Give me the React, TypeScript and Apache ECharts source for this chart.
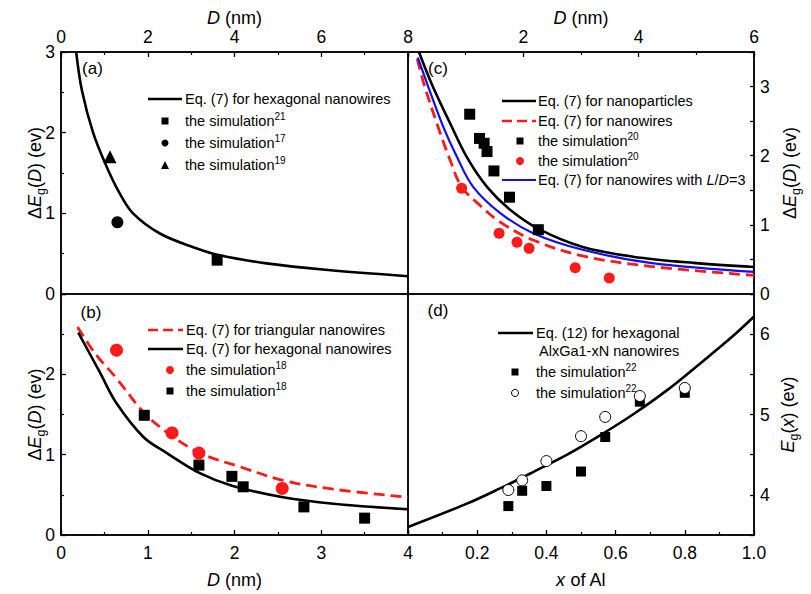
import React, { useEffect, useRef } from "react";
import * as echarts from "echarts";

const FONT = '"Liberation Sans", Arial, Helvetica, sans-serif';

// ---------- panel (a): hexagonal nanowires ----------
const aEqD = [0.35, 0.48, 0.74, 1.05, 1.35, 1.66, 2.28, 3.05, 3.66, 4.74, 6.1, 8.0];
const aEqE = [3.0, 2.53, 2.0, 1.58, 1.25, 1.0, 0.75, 0.58, 0.48, 0.38, 0.3, 0.22];
const aSim21 = [[3.6, 0.42]];
const aSim17 = [[1.3, 0.89]];
const aSim19 = [[1.13, 1.7]];

// ---------- panel (b): triangular vs hexagonal ----------
const bTriD = [0.19, 0.4, 0.64, 0.95, 1.22, 1.6, 2.06, 2.56, 3.14, 4.0];
const bTriE = [2.59, 2.25, 1.95, 1.53, 1.28, 1.02, 0.85, 0.68, 0.57, 0.47];
const bHexD = [0.2, 0.45, 0.64, 0.95, 1.22, 1.6, 1.98, 2.56, 3.14, 4.0];
const bHexE = [2.52, 2.02, 1.64, 1.22, 1.02, 0.77, 0.61, 0.47, 0.39, 0.32];
const bSimRedD = [0.64, 1.28, 1.59, 2.55];
const bSimRedE = [2.3, 1.27, 1.02, 0.58];
const bSimBlkD = [0.96, 1.59, 1.97, 2.1, 2.8, 3.5];
const bSimBlkE = [1.49, 0.87, 0.73, 0.6, 0.35, 0.21];

// ---------- panel (c): nanoparticles / nanowires ----------
const cNpD = [0.19, 0.43, 0.73, 1.02, 1.37, 1.77, 2.29, 3.03, 3.9, 4.95, 6.0];
const cNpE = [3.5, 3.0, 2.47, 1.98, 1.55, 1.22, 0.93, 0.68, 0.54, 0.45, 0.39];
const cNwD = [0.16, 0.29, 0.52, 0.72, 0.93, 1.25, 1.6, 2.17, 3.03, 4.2, 6.0];
const cNwE = [3.4, 3.0, 2.42, 1.96, 1.55, 1.28, 1.04, 0.78, 0.55, 0.4, 0.27];
const cLdD = [0.17, 0.35, 0.61, 0.85, 1.13, 1.6, 2.17, 3.03, 4.2, 6.0];
const cLdE = [3.42, 3.0, 2.42, 1.98, 1.55, 1.17, 0.88, 0.64, 0.45, 0.32];
const cSimBlkD = [1.07, 1.24, 1.32, 1.37, 1.49, 1.76, 2.26];
const cSimBlkE = [2.6, 2.25, 2.18, 2.06, 1.78, 1.4, 0.93];
const cSimRedD = [0.93, 1.58, 1.89, 2.1, 2.9, 3.49];
const cSimRedE = [1.53, 0.88, 0.75, 0.66, 0.38, 0.23];

// ---------- panel (d): AlxGa1-xN ----------
const dEqX = [0, 0.17, 0.266, 0.36, 0.46, 0.555, 0.65, 0.748, 0.84, 0.94, 1.0];
const dEqE = [3.6, 3.89, 4.08, 4.28, 4.5, 4.74, 5.0, 5.3, 5.62, 5.98, 6.22];
const dSimX = [0.29, 0.33, 0.4, 0.5, 0.57, 0.67, 0.8];
const dSimSqE = [3.86, 4.05, 4.11, 4.29, 4.72, 5.16, 5.27];
const dSimOpenE = [4.06, 4.18, 4.42, 4.73, 4.97, 5.23, 5.33];

// ---------- axis ranges [min, max, interval] ----------
const aXRange = [0, 8, 2];
const aYRange = [0, 3, 1];
const bXRange = [0, 4, 1];
const bYRange = [0, 3, 1];
const cXRange = [0, 6, 2];
const cYRange = [0, 3.5, 0.5];
const dXRange = [0, 1, 0.2];
const dYRange = [3.5, 6.5, 0.5];

const zip = (xs: number[], ys: number[]) => xs.map((x, i) => [x, ys[i]]);

const nameRich = (lh: number) => ({
  n: { fontSize: 18, fontFamily: FONT, lineHeight: lh, color: "#000" },
  it: { fontSize: 18, fontFamily: FONT, fontStyle: "italic", lineHeight: lh, color: "#000" },
  sub: { fontSize: 12.5, fontFamily: FONT, lineHeight: lh, height: 10, verticalAlign: "bottom", color: "#000" },
});

const nameDeltaEgD = "{n|Δ}{it|E}{sub|g}{n|(}{it|D}{n|) (ev)}";
const nameEgx = "{it|E}{sub|g}{n|(}{it|x}{n|) (ev)}";
const nameDnm = "{it|D}{n| (nm)}";
const nameXAl = "{it|x}{n| of Al}";

const intOnly = (v: number) => (Math.abs(v - Math.round(v)) < 1e-9 ? String(Math.round(v)) : "");

function axis(o: any) {
  const [min, max, interval] = o.range;
  const lh = o.nameLH ?? 22;
  return {
    type: "value",
    gridIndex: o.grid,
    position: o.position,
    min,
    max,
    interval,
    axisLine: { show: true, onZero: false, lineStyle: { color: "#000", width: 1.5 } },
    axisTick: { show: true, inside: true, length: o.tickLen ?? 5, lineStyle: { color: "#000", width: 1.3 } },
    minorTick: { show: !!o.minor, splitNumber: 2, length: 3, lineStyle: { color: "#000", width: 1.2 } },
    splitLine: { show: false },
    minorSplitLine: { show: false },
    axisLabel: {
      show: true,
      color: "#000",
      fontSize: 17.5,
      fontFamily: FONT,
      margin: o.margin,
      formatter: o.fmt,
      showMinLabel: o.hideMin ? false : null,
      showMaxLabel: o.hideMax ? false : null,
    },
    name: o.name,
    nameLocation: "middle",
    nameGap: o.nameGap,
    nameMoveOverlap: false,
    nameTextStyle: { color: "#000", fontSize: 18, fontFamily: FONT, lineHeight: lh, rich: nameRich(lh) },
  };
}

function lineSeries(name: string, xi: number, data: number[][], color: string, width: number, dashed = false) {
  return {
    type: "line",
    name,
    xAxisIndex: xi,
    yAxisIndex: xi,
    data,
    symbol: "none",
    showSymbol: false,
    smooth: 0.35,
    clip: true,
    silent: true,
    z: 2,
    lineStyle: { color, width, type: dashed ? [11, 6] : "solid" },
    itemStyle: { color },
  };
}

function scatterSeries(name: string, xi: number, data: number[][], symbol: string, size: number, color: string, border?: string) {
  return {
    type: "scatter",
    name,
    xAxisIndex: xi,
    yAxisIndex: xi,
    data,
    symbol,
    symbolSize: size,
    silent: true,
    z: 3,
    itemStyle: { color, borderColor: border ?? color, borderWidth: border ? 1 : 0, opacity: 1 },
  };
}

const LEG_RICH = {
  n: { fontSize: 14.5, fontFamily: FONT, lineHeight: 18, fill: "#000" },
  it: { fontSize: 14.5, fontFamily: FONT, fontStyle: "italic", lineHeight: 18, fill: "#000" },
  sup: { fontSize: 10, fontFamily: FONT, lineHeight: 18, height: 8, verticalAlign: "top", fill: "#000" },
};

const legText = (x: number, y: number, text: string) => ({
  type: "text",
  x,
  y,
  silent: true,
  style: {
    text,
    fill: "#000",
    fontSize: 14.5,
    fontFamily: FONT,
    lineHeight: 18,
    align: "left",
    verticalAlign: "middle",
    rich: LEG_RICH,
  },
});
const legLine = (x1: number, x2: number, y: number, color: string, width: number, dashed = false) => ({
  type: "line",
  silent: true,
  shape: { x1, y1: y, x2, y2: y },
  style: { stroke: color, lineWidth: width, lineDash: dashed ? [10, 5] : null },
});
const legSquare = (cx: number, cy: number, s: number, color: string) => ({
  type: "rect",
  silent: true,
  shape: { x: cx - s / 2, y: cy - s / 2, width: s, height: s },
  style: { fill: color },
});
const legCircle = (cx: number, cy: number, r: number, fill: string, stroke?: string) => ({
  type: "circle",
  silent: true,
  shape: { cx, cy, r },
  style: { fill, stroke: stroke ?? null, lineWidth: stroke ? 1 : 0 },
});
const legTriangle = (cx: number, cy: number, s: number, color: string) => ({
  type: "polygon",
  silent: true,
  shape: { points: [[cx, cy - s / 2], [cx + s / 2, cy + s / 2], [cx - s / 2, cy + s / 2]] },
  style: { fill: color },
});
const panelLabel = (x: number, y: number, text: string) => ({
  type: "text",
  x,
  y,
  silent: true,
  style: { text, fill: "#000", fontSize: 17, fontFamily: FONT, align: "center", verticalAlign: "middle" },
});

const RED = "#ff1a1a";
const BLUE = "#1010ee";

export default function App() {
  const ref = useRef<HTMLDivElement>(null);
  useEffect(() => {
    if (!ref.current) return;
    const chart = echarts.init(ref.current, null, { renderer: "svg" });
    const gridStyle = { show: true, borderColor: "#000", borderWidth: 1.5, backgroundColor: "transparent" };
    const option: any = {
      animation: false,
      backgroundColor: "#fff",
      textStyle: { fontFamily: FONT, color: "#000" },
      grid: [
        { ...gridStyle, left: 61, top: 52, width: 347, height: 242 },
        { ...gridStyle, left: 61, top: 294, width: 347, height: 241 },
        { ...gridStyle, left: 408, top: 52, width: 346, height: 242 },
        { ...gridStyle, left: 408, top: 294, width: 346, height: 241 },
      ],
      xAxis: [
        axis({ grid: 0, position: "top", range: aXRange, minor: true, margin: 6, name: nameDnm, nameGap: 26, nameLH: 16 }),
        axis({ grid: 1, position: "bottom", range: bXRange, minor: true, margin: 9, name: nameDnm, nameGap: 34 }),
        axis({ grid: 2, position: "top", range: cXRange, minor: true, margin: 6, hideMin: true, name: nameDnm, nameGap: 26, nameLH: 16 }),
        axis({
          grid: 3,
          position: "bottom",
          range: dXRange,
          minor: true,
          margin: 9,
          hideMin: true,
          fmt: (v: number) => v.toFixed(1),
          name: nameXAl,
          nameGap: 34,
        }),
      ],
      yAxis: [
        axis({ grid: 0, position: "left", range: aYRange, minor: true, margin: 6, name: nameDeltaEgD, nameGap: 15 }),
        axis({ grid: 1, position: "left", range: bYRange, minor: true, margin: 6, hideMax: true, name: nameDeltaEgD, nameGap: 15 }),
        axis({ grid: 2, position: "right", range: cYRange, tickLen: 4, margin: 6, fmt: intOnly, name: nameDeltaEgD, nameGap: 25 }),
        axis({ grid: 3, position: "right", range: dYRange, tickLen: 4, margin: 6, fmt: intOnly, name: nameEgx, nameGap: 23 }),
      ],
      series: [
        lineSeries("a: Eq. (7) hexagonal", 0, zip(aEqD, aEqE), "#000", 2.6),
        scatterSeries("a: simulation 21", 0, aSim21, "rect", 11, "#000"),
        scatterSeries("a: simulation 17", 0, aSim17, "circle", 12, "#000"),
        scatterSeries("a: simulation 19", 0, aSim19, "triangle", 13, "#000"),

        lineSeries("b: Eq. (7) triangular", 1, zip(bTriD, bTriE), RED, 2.8, true),
        lineSeries("b: Eq. (7) hexagonal", 1, zip(bHexD, bHexE), "#000", 2.6),
        scatterSeries("b: simulation 18 red", 1, zip(bSimRedD, bSimRedE), "circle", 13, RED),
        scatterSeries("b: simulation 18 black", 1, zip(bSimBlkD, bSimBlkE), "rect", 11, "#000"),

        lineSeries("c: Eq. (7) nanoparticles", 2, zip(cNpD, cNpE), "#000", 2.6),
        lineSeries("c: Eq. (7) nanowires", 2, zip(cNwD, cNwE), RED, 2.8, true),
        lineSeries("c: Eq. (7) L/D=3", 2, zip(cLdD, cLdE), BLUE, 2.2),
        scatterSeries("c: simulation 20 black", 2, zip(cSimBlkD, cSimBlkE), "rect", 11, "#000"),
        scatterSeries("c: simulation 20 red", 2, zip(cSimRedD, cSimRedE), "circle", 11, RED),

        lineSeries("d: Eq. (12)", 3, zip(dEqX, dEqE), "#000", 2.6),
        scatterSeries("d: simulation 22 square", 3, zip(dSimX, dSimSqE), "rect", 10, "#000"),
        scatterSeries("d: simulation 22 open", 3, zip(dSimX, dSimOpenE), "circle", 11, "#fff", "#000"),
      ],
      graphic: [
        panelLabel(92.5, 68.5, "(a)"),
        panelLabel(91, 312.5, "(b)"),
        panelLabel(438, 68.5, "(c)"),
        panelLabel(438, 310.5, "(d)"),

        // legend (a)
        legLine(148, 182, 99, "#000", 2.6),
        legText(185, 99, "Eq. (7) for hexagonal nanowires"),
        legSquare(165, 121, 7, "#000"),
        legText(185, 121, "{n|the simulation}{sup|21}"),
        legCircle(165, 143, 3.5, "#000"),
        legText(185, 143, "{n|the simulation}{sup|17}"),
        legTriangle(165, 165, 8, "#000"),
        legText(185, 165, "{n|the simulation}{sup|19}"),

        // legend (b)
        legLine(148, 183, 330, RED, 2.6, true),
        legText(186, 330, "Eq. (7) for triangular nanowires"),
        legLine(148, 183, 349, "#000", 2.6),
        legText(186, 349, "Eq. (7) for hexagonal nanowires"),
        legCircle(170, 370, 4, RED),
        legText(186, 370, "{n|the simulation}{sup|18}"),
        legSquare(170, 391, 7, "#000"),
        legText(186, 391, "{n|the simulation}{sup|18}"),

        // legend (c)
        legLine(502, 536, 101, "#000", 2.6),
        legText(538, 101, "Eq. (7) for nanoparticles"),
        legLine(502, 536, 121, RED, 2.6, true),
        legText(538, 121, "Eq. (7) for nanowires"),
        legSquare(520, 141, 7, "#000"),
        legText(538, 141, "{n|the simulation}{sup|20}"),
        legCircle(520, 161, 4, RED),
        legText(538, 161, "{n|the simulation}{sup|20}"),
        legLine(502, 536, 180, BLUE, 2.2),
        legText(538, 180, "{n|Eq. (7) for nanowires with }{it|L}{n|/}{it|D}{n|=3}"),

        // legend (d)
        legLine(498, 533, 333, "#000", 2.6),
        legText(536, 333, "Eq. (12) for hexagonal"),
        legText(539, 351, "AlxGa1-xN nanowires"),
        legSquare(515, 372, 7, "#000"),
        legText(536, 372, "{n|the simulation}{sup|22}"),
        legCircle(515, 393, 3.5, "#fff", "#000"),
        legText(536, 393, "{n|the simulation}{sup|22}"),
      ],
    };
    chart.setOption(option);
    return () => chart.dispose();
  }, []);
  return <div ref={ref} style={{ position: "absolute", left: 0, top: 0, width: 811, height: 594 }} />;
}
